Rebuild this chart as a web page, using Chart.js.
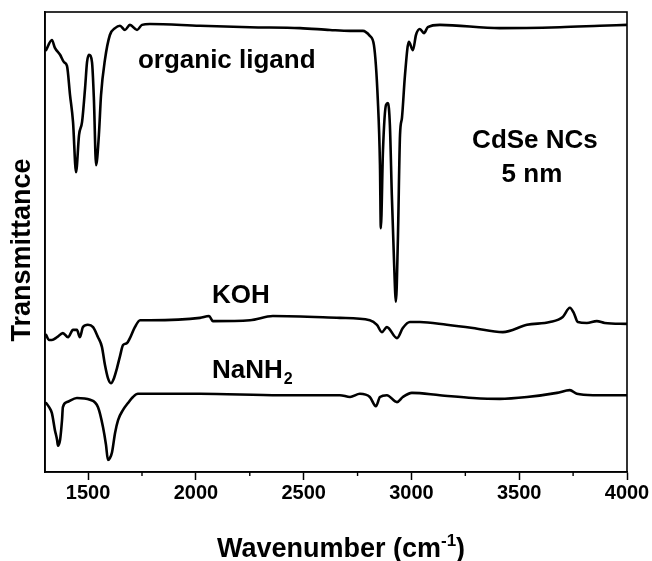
<!DOCTYPE html>
<html>
<head>
<meta charset="utf-8">
<script src="https://cdn.jsdelivr.net/npm/chart.js@4.4.1/dist/chart.umd.min.js"></script>
<style>
  html, body { margin: 0; padding: 0; background: #fff; }
  #wrap { width: 652px; height: 561px; position: relative; }
</style>
</head>
<body>
<div id="wrap"><canvas id="c"></canvas></div>
<script>
// ---- data (wavenumber in cm^-1, transmittance in arbitrary units) ----
const ligandWn = [1305,1332,1346,1370,1388,1402,1416,1430,1444,1458,1472,1486,1495,1504,1518,1527,1537,1550,1560,1578,1601,1625,1648,1671,1694,1727,1750,1787,2019,2251,2483,2622,2715,2775,2807,2826,2844,2854,2858,2868,2882,2891,2900,2909,2919,2928,2937,2947,2956,2970,2988,3007,3021,3039,3058,3076,3132,3410,3689,3874,4000];
const ligandT  = [91.7,93.9,92.2,90.7,89.1,88.3,82.0,76.1,65.2,73.3,76.1,83.5,89.1,90.7,89.1,80.9,66.7,73.3,82.0,89.6,95.0,96.5,97.0,96.1,97.2,96.1,97.2,97.4,97.0,96.7,96.5,96.1,95.9,95.9,94.8,92.8,80.9,66.7,53.0,70.0,79.8,80.2,75.4,60.2,46.1,37.0,50.4,73.3,77.0,86.3,93.5,91.7,95.0,96.3,95.4,96.7,97.2,96.5,96.7,97.0,97.2];

const kohWn = [1305,1319,1332,1356,1383,1407,1430,1448,1462,1476,1499,1523,1546,1564,1578,1592,1606,1620,1634,1648,1662,1680,1694,1717,1741,1787,2019,2061,2079,2251,2357,2668,2807,2840,2863,2886,2933,2960,2993,3039,3164,3285,3424,3536,3642,3702,3735,3753,3772,3814,3860,3897,4000];
const kohT  = [29.8,28.7,28.7,29.3,30.2,29.3,30.9,30.9,29.3,31.5,32.0,31.5,29.3,27.2,23.3,20.4,19.3,20.4,22.6,25.2,27.6,28.0,29.1,31.5,33.0,33.0,33.5,33.9,32.8,33.0,33.9,33.5,33.0,32.0,30.4,31.5,29.1,31.3,32.6,32.6,32.0,31.3,30.4,32.0,32.6,33.7,35.7,34.6,32.6,32.4,32.8,32.4,32.2];

const nanh2Wn = [1305,1319,1332,1346,1356,1360,1370,1379,1383,1402,1448,1509,1546,1569,1583,1592,1601,1611,1625,1639,1662,1685,1708,1731,1833,2019,2390,2668,2715,2761,2807,2835,2854,2886,2933,2960,3002,3132,3285,3410,3536,3675,3735,3767,3842,4000];
const nanh2T  = [15.0,14.1,12.8,9.1,7.0,5.7,7.0,11.3,14.1,15.2,16.1,15.7,14.1,9.8,5.9,2.6,3.0,4.3,8.5,11.3,13.5,15.0,16.3,17.0,17.0,17.0,16.7,16.7,16.3,17.0,16.3,14.3,16.3,16.7,15.2,16.3,17.2,16.7,16.1,15.9,16.3,17.2,17.8,17.0,16.7,16.7];

const xTickValues = [1500, 2000, 2500, 3000, 3500, 4000];
const xMinorTicks = [1750, 2250, 2750, 3250, 3750];
const xTitle = "Wavenumber (cm";
const xTitleSup = "-1";
const yTitle = "Transmittance";
const curveLabels = ["organic ligand", "KOH", "NaNH"];
const sampleLabel = ["CdSe NCs", "5 nm"];

const FONT = '"Liberation Sans", Arial, Helvetica, sans-serif';

function pts(xs, ys) { return xs.map((x, i) => ({ x: x, y: ys[i] })); }

function lineSet(xs, ys) {
  return {
    data: pts(xs, ys),
    borderColor: '#000',
    borderWidth: 2.6,
    pointRadius: 0,
    fill: false,
    cubicInterpolationMode: 'monotone',
    borderJoinStyle: 'round',
    borderCapStyle: 'round'
  };
}

const decor = {
  id: 'decor',
  afterDraw(chart) {
    const ctx = chart.ctx;
    const a = chart.chartArea;
    const xs = chart.scales.x, ys = chart.scales.y;
    ctx.save();
    // frame
    ctx.strokeStyle = '#000';
    ctx.lineWidth = 1.6;
    ctx.strokeRect(a.left, a.top, a.right - a.left, a.bottom - a.top);
    // minor ticks
    ctx.lineWidth = 1.4;
    xMinorTicks.forEach(v => {
      const px = xs.getPixelForValue(v);
      ctx.beginPath();
      ctx.moveTo(px, a.bottom);
      ctx.lineTo(px, a.bottom + 4);
      ctx.stroke();
    });
    ctx.fillStyle = '#000';
    // curve labels
    ctx.font = 'bold 26px ' + FONT;
    ctx.textBaseline = 'alphabetic';
    ctx.textAlign = 'left';
    ctx.fillText(curveLabels[0], xs.getPixelForValue(1731), ys.getPixelForValue(87.8));
    ctx.fillText(curveLabels[1], xs.getPixelForValue(2075), ys.getPixelForValue(36.7));
    const nx = xs.getPixelForValue(2075), ny = ys.getPixelForValue(20.4);
    ctx.fillText(curveLabels[2], nx, ny);
    const w = ctx.measureText(curveLabels[2]).width;
    ctx.font = 'bold 16px ' + FONT;
    ctx.fillText('2', nx + w + 1, ny + 6);
    // sample label
    ctx.font = 'bold 26px ' + FONT;
    ctx.textAlign = 'center';
    ctx.fillText(sampleLabel[0], xs.getPixelForValue(3573), ys.getPixelForValue(70.4));
    ctx.fillText(sampleLabel[1], xs.getPixelForValue(3559), ys.getPixelForValue(63.0));
    // x title with superscript
    ctx.font = 'bold 27px ' + FONT;
    const mainW = ctx.measureText(xTitle).width;
    const parW = ctx.measureText(')').width;
    ctx.font = 'bold 17px ' + FONT;
    const supW = ctx.measureText(xTitleSup).width;
    const total = mainW + supW + parW;
    let sx = 341 - total / 2;
    const by = 557;
    ctx.textAlign = 'left';
    ctx.font = 'bold 27px ' + FONT;
    ctx.fillText(xTitle, sx, by);
    ctx.font = 'bold 17px ' + FONT;
    ctx.fillText(xTitleSup, sx + mainW, by - 11);
    ctx.font = 'bold 27px ' + FONT;
    ctx.fillText(')', sx + mainW + supW, by);
    // y title
    ctx.translate(23, 250);
    ctx.rotate(-Math.PI / 2);
    ctx.textAlign = 'center';
    ctx.textBaseline = 'middle';
    ctx.font = 'bold 27px ' + FONT;
    ctx.fillText(yTitle, 0, 0);
    ctx.restore();
  }
};

new Chart(document.getElementById('c'), {
  type: 'line',
  data: {
    datasets: [lineSet(ligandWn, ligandT), lineSet(kohWn, kohT), lineSet(nanh2Wn, nanh2T)]
  },
  options: {
    responsive: true,
    maintainAspectRatio: false,
    devicePixelRatio: 1,
    animation: false,
    layout: { padding: { top: 12, right: 25, left: 0, bottom: 0 } },
    plugins: { legend: { display: false }, tooltip: { enabled: false } },
    scales: {
      x: {
        type: 'linear',
        min: 1300,
        max: 4000,
        afterBuildTicks: (s) => { s.ticks = xTickValues.map(v => ({ value: v })); },
        afterFit: (s) => { s.height = 89; },
        ticks: {
          color: '#000',
          font: { family: FONT, size: 20, weight: 'bold' },
          padding: 1,
          maxRotation: 0,
          autoSkip: false,
          callback: (v) => String(v)
        },
        grid: { display: true, drawOnChartArea: false, drawTicks: true, tickLength: 8, tickColor: '#000', tickWidth: 1.5 },
        border: { display: true, color: '#000', width: 1.6 }
      },
      y: {
        type: 'linear',
        min: 0,
        max: 100,
        afterFit: (s) => { s.width = 45; },
        ticks: { display: false },
        grid: { display: false },
        border: { display: true, color: '#000', width: 1.6 }
      }
    }
  },
  plugins: [decor]
});
</script>
</body>
</html>
